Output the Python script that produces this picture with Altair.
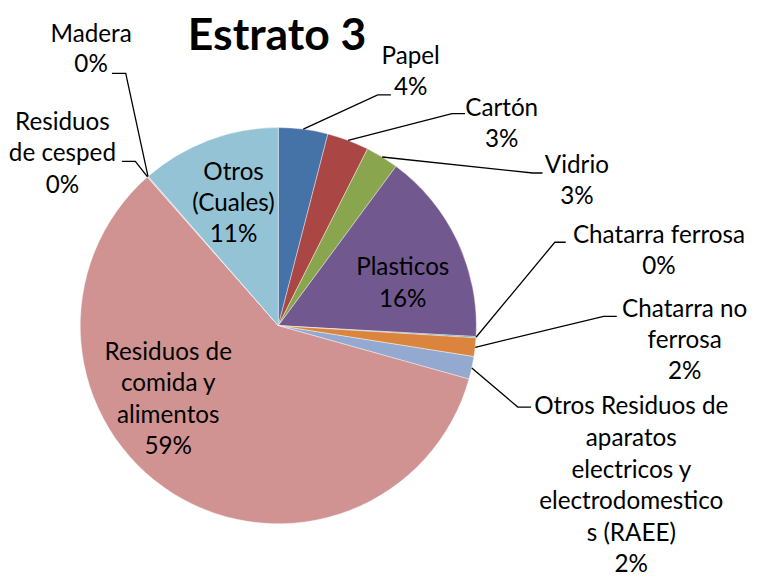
import math
import altair as alt
import pandas as pd

# ---------------- data ----------------
categories = [
    "Papel", "Cartón", "Vidrio", "Plasticos", "Chatarra ferrosa",
    "Chatarra no ferrosa",
    "Otros Residuos de aparatos electricos y electrodomesticos (RAEE)",
    "Residuos de comida y alimentos", "Residuos de cesped", "Madera",
    "Otros (Cuales)",
]
values = [4.03, 3.41, 2.69, 15.75, 0.10, 1.52, 1.85, 59.15, 0.05, 0.05, 11.40]
colors = ["#4572A7", "#AA4643", "#89A54E", "#71588F", "#4198AF", "#DB843D",
          "#93A9CF", "#D19392", "#B9CD96", "#A99BBD", "#93C3D5"]
title_text = "Estrato 3"

# ---------------- layout (page pixels) ----------------
OFF = 8
CX, CY, R = 281.2, 326.0, 200.2
FS = 24.5

# wrapped label lines (the last line is the rounded percentage)
wraps = {
    "Papel": ["Papel"],
    "Cartón": ["Cartón"],
    "Vidrio": ["Vidrio"],
    "Plasticos": ["Plasticos"],
    "Chatarra ferrosa": ["Chatarra ferrosa"],
    "Chatarra no ferrosa": ["Chatarra no", "ferrosa"],
    categories[6]: ["Otros Residuos de", "aparatos", "electricos y",
                    "electrodomestico", "s (RAEE)"],
    "Residuos de comida y alimentos": ["Residuos de", "comida y", "alimentos"],
    "Residuos de cesped": ["Residuos", "de cesped"],
    "Madera": ["Madera"],
    "Otros (Cuales)": ["Otros", "(Cuales)"],
}
# label block: centre x, first-line y, line step
label_pos = {
    "Papel": (415, 55, 31),
    "Cartón": (507, 107, 31),
    "Vidrio": (583, 165, 31),
    "Plasticos": (407, 268, 32),
    "Chatarra ferrosa": (666, 235, 32),
    "Chatarra no ferrosa": (692, 310, 31.5),
    categories[6]: (638, 408.5, 32),
    "Residuos de comida y alimentos": (170, 353.5, 31.7),
    "Residuos de cesped": (63, 121, 32),
    "Madera": (92, 32, 31),
    "Otros (Cuales)": (236, 172, 31),
}
# leader line elbows (label side first)
leaders = {
    "Papel": [(395, 92.7), (381.7, 92.7)],
    "Cartón": [(470, 111.7), (456.7, 111.7)],
    "Vidrio": [(548.3, 171.7), (538.3, 171.7)],
    "Chatarra ferrosa": [(571.7, 241.7), (560.7, 241.7)],
    "Chatarra no ferrosa": [(623.3, 316.7), (610, 316.7)],
    categories[6]: [(536.7, 408.3), (523.3, 408.3)],
    "Residuos de cesped": [(123.3, 160), (136.7, 160)],
    "Madera": [(113, 71), (127, 71)],
}

# ---------------- tables ----------------
pie_df = pd.DataFrame({"category": categories, "value": values,
                       "idx": list(range(len(categories)))})

total = sum(values)
text_rows = []
line_rows = []
cum = 0.0
for cat, v in zip(categories, values):
    mid = (cum + v / 2) / total * 2 * math.pi
    cum += v
    pct = f"{int(v + 0.5)}%"
    x0, y0, step = label_pos[cat]
    for i, t in enumerate(wraps[cat] + [pct]):
        text_rows.append({"t": t, "px": x0 - OFF, "py": y0 + i * step - OFF})
    if cat in leaders:
        sx = CX + R * math.sin(mid)
        sy = CY - R * math.cos(mid)
        pts = leaders[cat] + [(sx, sy)]
        for k, (px, py) in enumerate(pts):
            line_rows.append({"g": cat, "k": k, "px": px - OFF, "py": py - OFF})

text_df = pd.DataFrame(text_rows)
title_df = pd.DataFrame([{"t": title_text, "px": 280 - OFF, "py": 33 - OFF}])
line_df = pd.DataFrame(line_rows)

# ---------------- chart ----------------
pie = alt.Chart(pie_df).mark_arc(outerRadius=R, stroke="#ffffff",
                                 strokeWidth=0.4).encode(
    theta=alt.Theta("value:Q", stack=True),
    color=alt.Color("category:N", scale=alt.Scale(domain=categories, range=colors),
                    legend=None),
    order=alt.Order("idx:Q"),
    x=alt.value(CX - OFF),
    y=alt.value(CY - OFF),
)

lines = alt.Chart(line_df).mark_line(color="black", strokeWidth=1.3).encode(
    x=alt.X("px:Q", scale=None, axis=None),
    y=alt.Y("py:Q", scale=None, axis=None),
    detail="g:N",
    order=alt.Order("k:Q"),
)

labels = alt.Chart(text_df).mark_text(
    font="Lato", fontSize=FS, color="black", align="center", baseline="middle"
).encode(
    x=alt.X("px:Q", scale=None, axis=None),
    y=alt.Y("py:Q", scale=None, axis=None),
    text="t:N",
)

title = alt.Chart(title_df).mark_text(
    font="Lato", fontSize=45, fontWeight="bold", color="black",
    align="center", baseline="middle"
).encode(
    x=alt.X("px:Q", scale=None, axis=None),
    y=alt.Y("py:Q", scale=None, axis=None),
    text="t:N",
)

chart = alt.layer(pie, lines, labels, title).properties(
    width=752, height=570, padding=0,
    autosize=alt.AutoSizeParams(type="none"),
    background="white",
).configure_view(strokeWidth=0)

chart.save("out.html", embed_options={"renderer": "svg", "actions": False})
